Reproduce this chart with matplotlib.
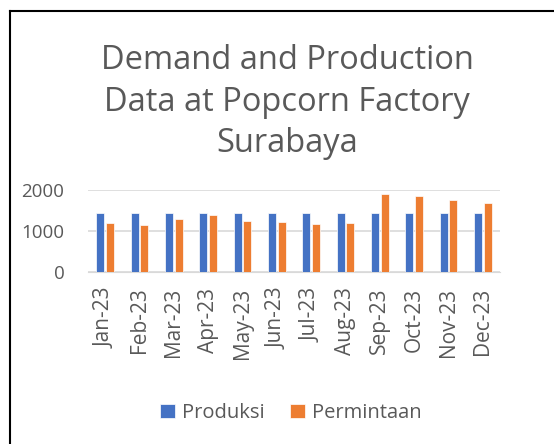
import numpy as np
import matplotlib.pyplot as plt
from matplotlib.lines import Line2D

plt.rcParams['font.family'] = ['Open Sans', 'DejaVu Sans']

months = ['Jan-23', 'Feb-23', 'Mar-23', 'Apr-23', 'May-23', 'Jun-23',
          'Jul-23', 'Aug-23', 'Sep-23', 'Oct-23', 'Nov-23', 'Dec-23']
produksi = [1430, 1430, 1430, 1430, 1430, 1430, 1430, 1430, 1430, 1430, 1430, 1430]
permintaan = [1210, 1145, 1300, 1400, 1235, 1228, 1162, 1203, 1900, 1845, 1765, 1690]

blue = '#4472C4'
orange = '#ED7D31'
gray = '#595959'

fig = plt.figure(figsize=(5.54, 4.44), dpi=100)
ax = fig.add_axes([0.1588, 0.3867, 0.7437, 0.1854])

x = np.arange(len(months))
w = 0.23
ax.bar(x - 0.14, produksi, w, color=blue, edgecolor='white', linewidth=0.5, label='Produksi', zorder=3)
ax.bar(x + 0.14, permintaan, w, color=orange, edgecolor='white', linewidth=0.5, label='Permintaan', zorder=3)

ax.set_xlim(-0.5, len(months) - 0.5)
ax.set_ylim(0, 2000)
ax.set_yticks([0, 1000, 2000])
ax.grid(axis='y', color='#D9D9D9', linewidth=1.2, zorder=0)
ax.set_xticks(x)
ax.set_xticklabels(months, rotation=90, fontsize=15, color=gray)
ax.tick_params(axis='y', labelsize=13.5, labelcolor=gray, length=0, pad=17)
ax.tick_params(axis='x', length=0, pad=11)
for s in ax.spines.values():
    s.set_visible(False)
ax.spines['bottom'].set_visible(True)
ax.spines['bottom'].set_color('#D9D9D9')

fig.text(0.518, 0.77, 'Demand and Production\nData at Popcorn Factory\nSurabaya',
         ha='center', va='center', fontsize=23.5, color=gray, linespacing=1.33)

ax.legend(loc='center', bbox_to_anchor=(0.525, 0.07), bbox_transform=fig.transFigure,
          ncol=2, frameon=False, fontsize=14.5, labelcolor=gray,
          handlelength=0.7, handleheight=0.7, handletextpad=0.35, columnspacing=1.3)

# chart border (only top and left edges visible in the crop)
fig.add_artist(Line2D([10/554, 10/554], [0, 1 - 11/444], color='black', linewidth=1.5))
fig.add_artist(Line2D([10/554, 1], [1 - 11/444, 1 - 11/444], color='black', linewidth=1.5))

fig.savefig('out.png', dpi=100)
